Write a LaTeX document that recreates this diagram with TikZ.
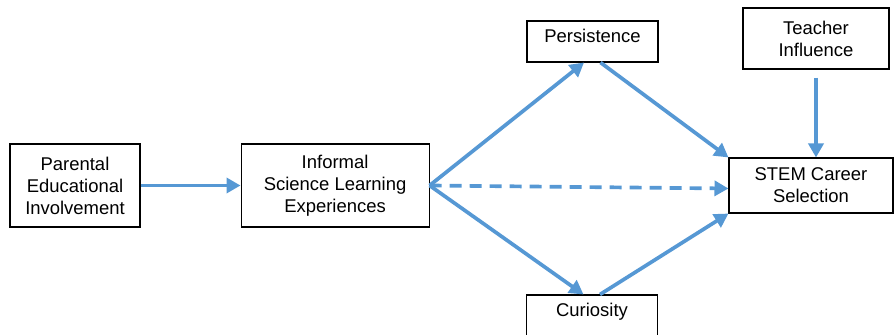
\documentclass[tikz,border=0pt]{standalone}
\usepackage{fontspec}
\setmainfont{Liberation Sans}
\usetikzlibrary{positioning,arrows.meta}
\definecolor{pathblue}{RGB}{86,152,212}

\begin{document}
\begin{tikzpicture}[
  font=\fontsize{10.5}{12.5}\selectfont,
  box/.style={draw, line width=0.6pt, align=center, inner sep=2pt},
  tallbox/.style={box, minimum height=1.66cm},
  slimbox/.style={box, minimum width=2.62cm, inner ysep=0pt, text height=0.43cm, text depth=0.39cm},
  arr/.style={-{Triangle[length=2.8mm,width=3mm]}, line width=2.1pt, pathblue},
  dasharr/.style={arr, dash pattern=on 2.4mm off 1.6mm}
]
\useasboundingbox (0,0) rectangle (17.9,6.7);

% Linke Spalte
\node[tallbox, minimum width=2.6cm] (parent) at (1.5,2.99) {Parental\\Educational\\Involvement};
\node[tallbox, minimum width=3.76cm, right=2cm of parent] (informal) {Informal\\Science Learning\\Experiences};

% Mediatoren
\node[slimbox] (persist) at (11.85,5.87) {Persistence};
\node[slimbox] (curious) at (11.84,0.39) {Curiosity};

% Rechte Spalte
\node[box, minimum width=2.92cm, minimum height=1.22cm] (teacher) at (16.32,5.93) {Teacher\\Influence};
\node[box, minimum width=3.28cm, minimum height=1.1cm] (stem) at (16.22,2.99) {STEM Career\\Selection};

% Pfeile
\draw[arr] (parent) -- (informal);
\draw[arr] (informal.east) -- ([xshift=-0.17cm]persist.south);
\draw[arr] ([xshift=0.16cm]persist.south) -- (stem.north west);
\draw[arr] (informal.east) -- ([xshift=-0.17cm]curious.north);
\draw[arr] ([xshift=0.16cm]curious.north) -- (stem.south west);
\draw[dasharr] (informal.east) -- ([yshift=-0.06cm]stem.west);
\draw[arr, shorten <=0.16cm] (teacher.south) -- (teacher.south |- stem.north);

\end{tikzpicture}
\end{document}
